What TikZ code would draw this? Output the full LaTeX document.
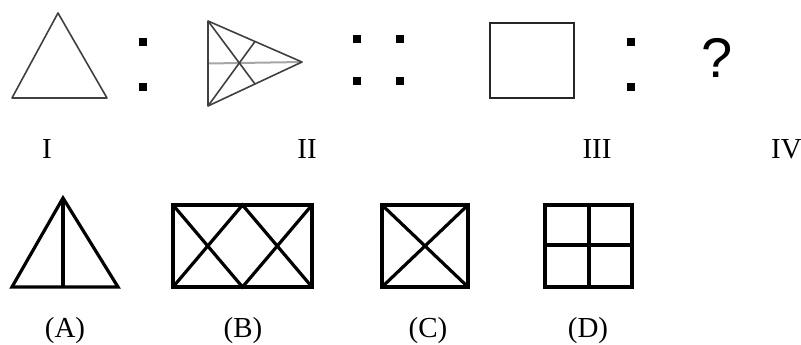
\documentclass[tikz,border=0pt]{standalone}
\usepackage{fontspec}
\setmainfont{Liberation Serif}
\newfontfamily\qfont{Liberation Sans}
\usetikzlibrary{calc}
\begin{document}
\begin{tikzpicture}[x=1pt,y=-1pt,
  thinfig/.style={draw=black!75, line width=1.6pt, line join=round},
  midfig/.style={draw=black!85, line width=2pt},
  boldfig/.style={draw=black, line width=3.2pt, line join=miter},
  dotbox/.style={fill=black, minimum size=8pt, inner sep=0pt, draw=none},
  roman/.style={font=\fontsize{29}{29}\selectfont, anchor=base, inner sep=0pt},
  optlab/.style={font=\fontsize{29}{29}\selectfont, anchor=base, inner sep=0pt},
]
\useasboundingbox (0,0) rectangle (801,345);
% Figure I
\coordinate (t1a) at (58,13);
\coordinate (t1b) at (12,98);
\coordinate (t1c) at (107,98);
\draw[thinfig] (t1a) -- (t1b) -- (t1c) -- cycle;
% colon 1
\node[dotbox] (c1a) at (143,42) {};
\node[dotbox] (c1b) at (143,87) {};
% Figure II
\coordinate (p1) at (208,21);
\coordinate (p2) at (208,106);
\coordinate (p3) at (302,62);
\draw[gray!70, line width=2pt] ($ (p1)!0.5!(p2) $) -- (p3);
\draw[thinfig] (p1) -- (p2) -- (p3) -- cycle;
\draw[thinfig] (p1) -- ($ (p2)!0.5!(p3) $);
\draw[thinfig] (p2) -- ($ (p1)!0.5!(p3) $);
% four dots
\node[dotbox] (d1) at (357,39) {};
\node[dotbox] (d2) at (400,39) {};
\node[dotbox] (d3) at (357,81) {};
\node[dotbox] (d4) at (400,81) {};
% Figure III
\draw[midfig] (490,23) rectangle (574,98);
% colon 2
\node[dotbox] (c2a) at (631,42) {};
\node[dotbox] (c2b) at (631,87) {};
% question mark
\node[font=\qfont\fontsize{56}{56}\selectfont, inner sep=0pt] (q) at (717,58) {?};
% roman labels
\node[roman] (l1) at (47,158) {I};
\node[roman] (l2) at (307,158) {II};
\node[roman] (l3) at (597,158) {III};
\node[roman, anchor=base west] (l4) at (771,158) {IV};
% Option A
\coordinate (aa) at (63,198);
\coordinate (ab) at (12,287);
\coordinate (ac) at (118,287);
\draw[boldfig] (aa) -- (ab) -- (ac) -- cycle;
\draw[boldfig] (aa) -- (63,287);
% Option B
\draw[boldfig] (173,205) rectangle (312,287);
\draw[boldfig] (173,205) -- (242.5,287) -- (312,205);
\draw[boldfig] (173,287) -- (242.5,205) -- (312,287);
% Option C
\draw[boldfig] (382,205) rectangle (468,287);
\draw[boldfig] (382,205) -- (468,287);
\draw[boldfig] (382,287) -- (468,205);
% Option D
\draw[boldfig] (545,205) rectangle (632,287);
\draw[boldfig] (589,205) -- (589,287);
\draw[boldfig] (545,245) -- (632,245);
% option labels
\node[optlab] (la) at (65,337) {(A)};
\node[optlab] (lb) at (243,337) {(B)};
\node[optlab] (lc) at (428,337) {(C)};
\node[optlab] (ld) at (588,337) {(D)};
\end{tikzpicture}
\end{document}
